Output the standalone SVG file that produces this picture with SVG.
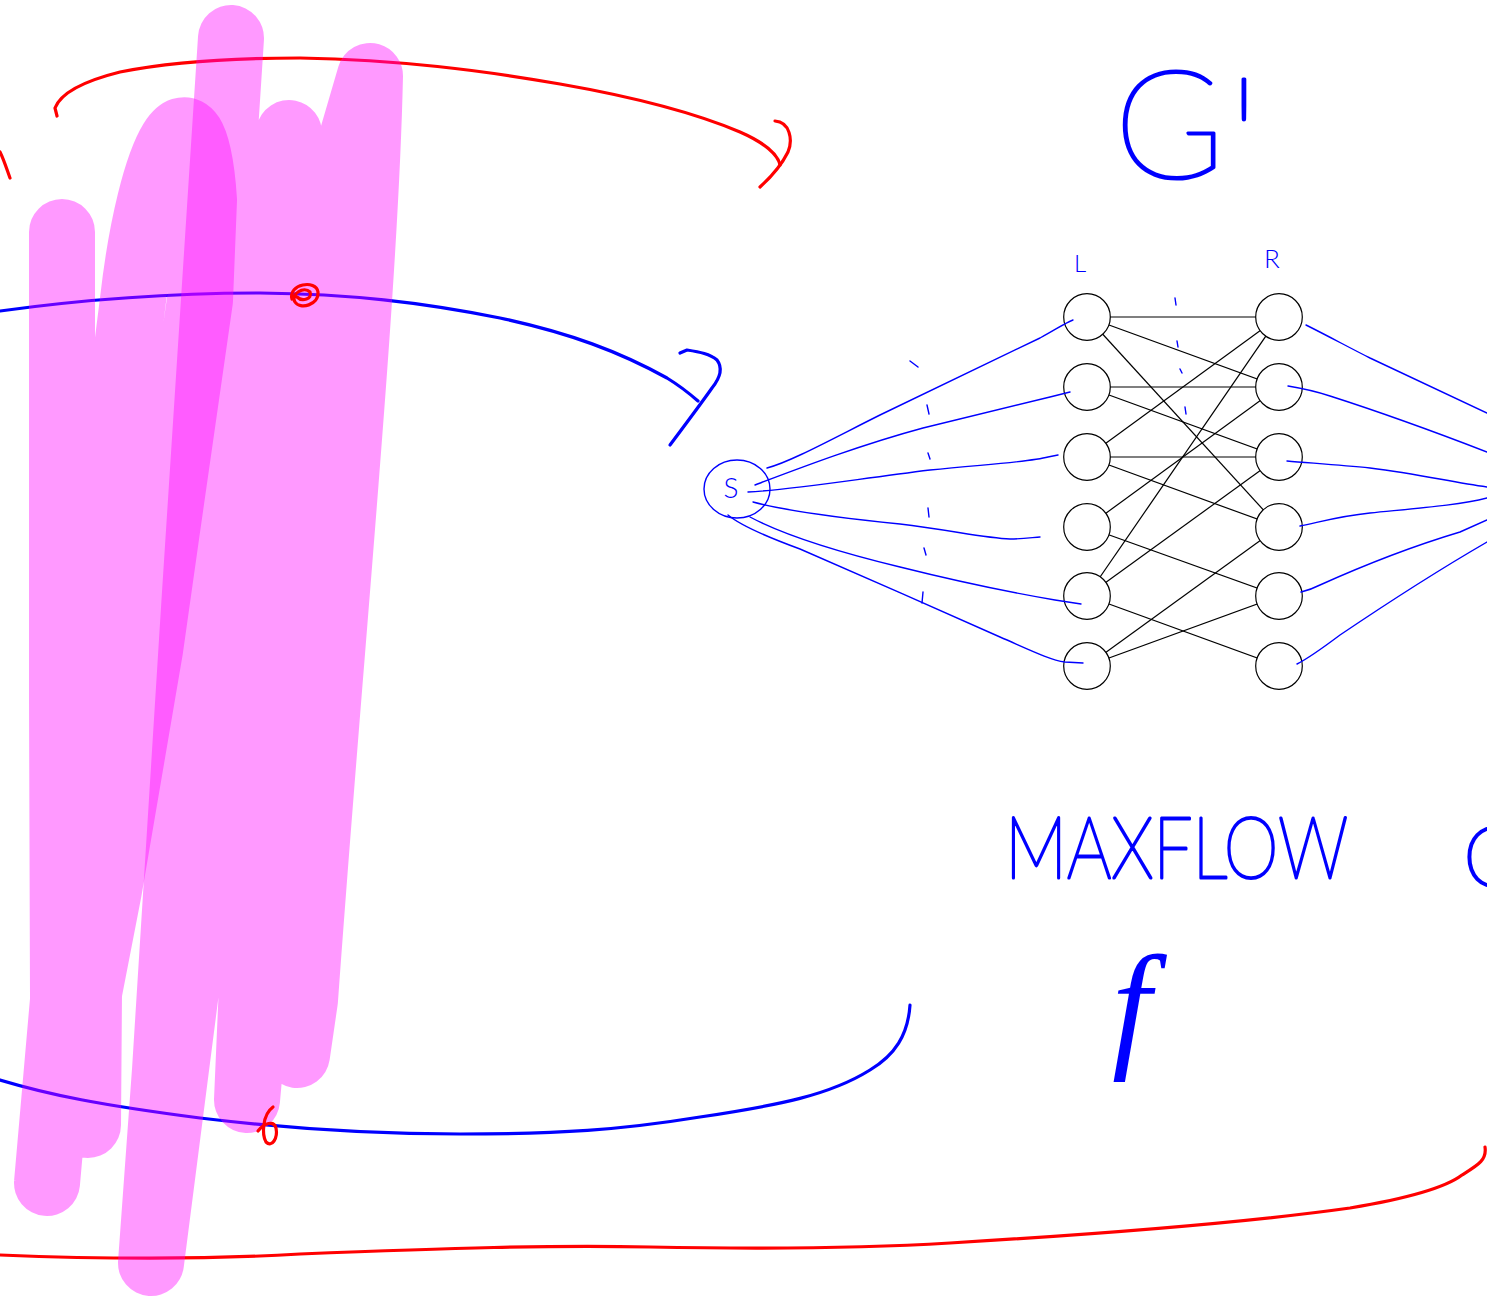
<svg xmlns="http://www.w3.org/2000/svg" width="1487" height="1296" viewBox="0 0 1487 1296">
<defs>
<style>
.bg{fill:#ffffff}
.node{fill:#ffffff;stroke:#000000;stroke-width:1.2}
.edge{stroke:#000000;stroke-width:1.2;fill:none}
.flow{stroke:#0000ff;stroke-width:1.4;fill:none;stroke-linecap:round;stroke-linejoin:round}
.pen{fill:none;stroke-linecap:round;stroke-linejoin:round;stroke-width:3.2}
.red{stroke:#ff0000}
.blue{stroke:#0000ff}
.hl{fill:none;stroke:#ff00ff;stroke-opacity:0.4;stroke-width:66;stroke-linecap:round;stroke-linejoin:round}
.hand{fill:#0000ff;stroke:#0000ff;stroke-width:3;stroke-linejoin:round;font-family:Lato,"Liberation Sans",sans-serif;font-weight:100}
.small{fill:#0000ff;font-family:Lato,"Liberation Sans",sans-serif;font-weight:300}
</style>
</defs>
<rect class="bg" x="0" y="0" width="1487" height="1296"/>

<g id="annotations">
<path class="pen red" d="M57,116 L55,108 C60,95 80,82 120,72 C170,62 230,58 300,58 C400,60 480,70 560,84 C640,98 700,115 740,132 C765,143 778,155 780,165"/>
<path class="pen red" d="M775,121 C790,122 793,140 788,152 C780,168 770,178 760,187"/>
<path class="pen red" d="M0,152 C4,160 7,170 10,178"/>
<path class="pen blue" d="M0,311 C80,300 170,293 260,293 C350,294 420,302 500,318 C570,333 620,352 667,378 C680,386 690,394 698,401"/>
<path class="pen blue" d="M680,353 L687,350 C700,352 710,354 717,360 C723,368 720,378 712,388 C700,405 685,425 670,445"/>
<path class="pen blue" d="M0,1080 C50,1095 100,1105 200,1118 C300,1130 380,1134 460,1134 C560,1134 620,1130 700,1117 C780,1105 830,1095 870,1070 C895,1055 908,1035 910,1005"/>
<path class="pen red" d="M0,1255 C100,1259 200,1260 300,1254 C450,1248 550,1245 650,1247 C750,1249 850,1249 950,1243 C1100,1234 1250,1222 1350,1208 C1410,1198 1445,1188 1462,1175 C1478,1165 1487,1160 1485,1147"/>
</g>

<g id="highlight">
<path class="hl" d="M62,232 L62,700 L63,1000 L47,1183 L72,900 L85,700 L104,530 Q120,400 133,300 C150,150 195,60 204,200 L200,300 L167,530 L150,650 L109,890 L89,993 L88,1125"/>
<path class="hl" d="M231,38 C222,200 180,800 165,1070 L151,1263 L262,400 Q275,200 289,133 L247,1100 L325,230 L370,76 C365,300 330,650 305,1000 L297,1055"/>
</g>

<g id="marks">
<path class="pen red" d="M292,299 C288,284 316,279 318,292 C319,305 300,310 295,302 C290,294 304,286 310,292 C313,299 302,302 297,297"/>
<path class="pen red" d="M273,1107 C262,1115 262,1135 266,1142 C272,1148 278,1138 276,1128 C274,1120 264,1123 258,1131"/>
</g>

<g id="connectors">
<line class="edge" x1="1087" y1="317" x2="1279" y2="317"/>
<line class="edge" x1="1087" y1="317" x2="1279" y2="387"/>
<line class="edge" x1="1087" y1="317" x2="1279" y2="527"/>
<line class="edge" x1="1087" y1="387" x2="1279" y2="387"/>
<line class="edge" x1="1087" y1="387" x2="1279" y2="457"/>
<line class="edge" x1="1087" y1="457" x2="1279" y2="317"/>
<line class="edge" x1="1087" y1="457" x2="1279" y2="457"/>
<line class="edge" x1="1087" y1="457" x2="1279" y2="527"/>
<line class="edge" x1="1087" y1="527" x2="1279" y2="387"/>
<line class="edge" x1="1087" y1="527" x2="1279" y2="596"/>
<line class="edge" x1="1087" y1="596" x2="1279" y2="317"/>
<line class="edge" x1="1087" y1="596" x2="1279" y2="457"/>
<line class="edge" x1="1087" y1="596" x2="1279" y2="666"/>
<line class="edge" x1="1087" y1="666" x2="1279" y2="527"/>
<line class="edge" x1="1087" y1="666" x2="1279" y2="596"/>
</g>

<g id="node-L1"><circle class="node" cx="1087" cy="317" r="23.3"/></g>
<g id="node-L2"><circle class="node" cx="1087" cy="387" r="23.3"/></g>
<g id="node-L3"><circle class="node" cx="1087" cy="457" r="23.3"/></g>
<g id="node-L4"><circle class="node" cx="1087" cy="527" r="23.3"/></g>
<g id="node-L5"><circle class="node" cx="1087" cy="596" r="23.3"/></g>
<g id="node-L6"><circle class="node" cx="1087" cy="666" r="23.3"/></g>
<g id="node-R1"><circle class="node" cx="1279" cy="317" r="23.3"/></g>
<g id="node-R2"><circle class="node" cx="1279" cy="387" r="23.3"/></g>
<g id="node-R3"><circle class="node" cx="1279" cy="457" r="23.3"/></g>
<g id="node-R4"><circle class="node" cx="1279" cy="527" r="23.3"/></g>
<g id="node-R5"><circle class="node" cx="1279" cy="596" r="23.3"/></g>
<g id="node-R6"><circle class="node" cx="1279" cy="666" r="23.3"/></g>

<g id="flow-edges">
<path class="flow" d="M767,468 C790,462 830,440 880,415 C940,386 1000,357 1040,338 C1055,330 1065,323 1073,320"/>
<path class="flow" d="M755,485 C800,468 860,445 923,428 C980,414 1020,404 1050,397 L1070,392"/>
<path class="flow" d="M748,492 C790,490 850,480 930,470 C990,464 1030,462 1048,457 L1058,455"/>
<path class="flow" d="M753,502 C790,512 840,518 900,524 C950,530 985,538 1010,539 C1025,539 1035,537 1040,537"/>
<path class="flow" d="M750,517 C780,533 830,550 900,567 C960,582 1020,594 1055,600 L1081,604"/>
<path class="flow" d="M728,515 C740,525 770,538 800,549 C860,575 940,610 1000,637 C1030,650 1050,660 1065,662 L1083,663"/>
<path class="flow" d="M1306,325 C1330,337 1350,348 1370,358 C1400,372 1440,391 1487,413"/>
<path class="flow" d="M1288,386 C1300,388 1315,391 1330,396 C1380,412 1430,430 1487,452"/>
<path class="flow" d="M1287,461 C1310,463 1340,465 1370,468 C1420,474 1450,482 1487,487"/>
<path class="flow" d="M1300,526 C1320,522 1340,516 1370,513 C1420,508 1460,505 1487,498"/>
<path class="flow" d="M1301,592 C1305,591 1310,590 1320,585 C1360,567 1410,547 1460,532 L1487,520"/>
<path class="flow" d="M1297,664 C1305,660 1320,650 1340,635 C1380,608 1430,575 1487,542"/>
<path class="flow" d="M910,361 L918,367 M927,405 L929,414 M928,453 L930,459 M928,508 L929,517 M924,548 L926,555 M923,592 L922,603 M1175,298 L1176,305 M1177,341 L1178,347 M1180,369 L1182,373 M1185,407 L1186,414"/>
</g>

<g id="node-s">
<ellipse cx="737" cy="489" rx="33" ry="29" fill="none" stroke="#0000ff" stroke-width="1.4"/>
<text class="small" x="731" y="498" font-size="28" text-anchor="middle">S</text>
</g>

<g id="labels">
<text class="small" x="1074" y="272" font-size="24">L</text>
<text class="small" x="1264" y="268" font-size="26">R</text>
<text class="hand" x="1114" y="178" font-size="150">G<tspan dx="2" dy="28" font-size="180">'</tspan></text>
<text class="hand" x="1005" y="878" font-size="86" textLength="343" lengthAdjust="spacingAndGlyphs">MAXFLOW</text>
<text class="hand" x="1463" y="887" font-size="86">G</text>
<text x="1112" y="1052" font-size="140" fill="#0000ff" font-family="'Liberation Serif',serif" font-style="italic">f</text>
</g>
</svg>
